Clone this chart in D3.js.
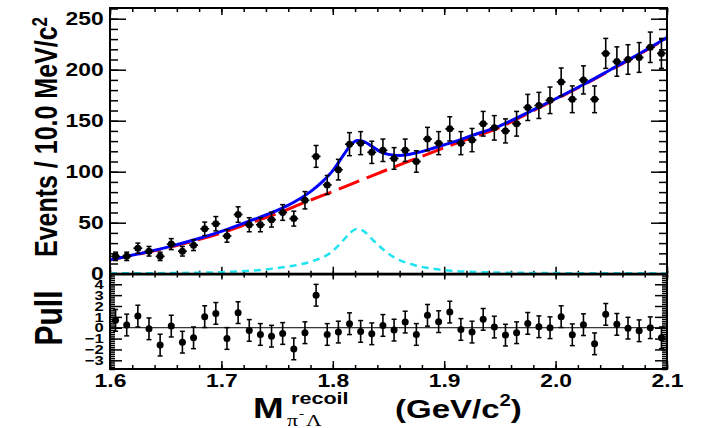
<!DOCTYPE html>
<meta charset="utf-8">
<head>
    <title>Recoil mass fit</title>
    <script src="https://d3js.org/d3.v7.min.js"></script>
    <style>
        body { margin: 0; background: #ffffff; }
        text { font-family: "Liberation Sans", Arial, sans-serif; font-weight: bold; fill: #000; }
    </style>
</head>
<body>
<div id="my_dataviz"></div>
<script>

// bin centres in GeV/c^2 (10 MeV bins)
var binCenters = [1.605,1.615,1.625,1.635,1.645,1.655,1.665,1.675,1.685,1.695,
                  1.705,1.715,1.725,1.735,1.745,1.755,1.765,1.775,1.785,1.795,
                  1.805,1.815,1.825,1.835,1.845,1.855,1.865,1.875,1.885,1.895,
                  1.905,1.915,1.925,1.935,1.945,1.955,1.965,1.975,1.985,1.995,
                  2.005,2.015,2.025,2.035,2.045,2.055,2.065,2.075,2.085,2.095];

// events per bin and their errors
var counts = [17,17,25,22,17,29,22,28,44,49,
              37,58,48,48,53,60,54,72,115,87,
              102,127,128,119,121,113,121,110,132,128,
              142,128,131,147,143,140,147,163,165,170,
              188,171,190,171,216,208,210,212,222,216];
var countErr = [4.1,4.1,5.0,4.7,4.1,5.4,4.7,5.3,6.6,7.0,
                6.1,7.6,6.9,6.9,7.3,7.7,7.3,8.5,10.7,9.3,
                10.1,11.3,11.3,10.9,11.0,10.6,11.0,10.5,11.5,11.3,
                11.9,11.3,11.4,12.1,12.0,11.8,12.1,12.8,12.8,13.0,
                13.7,13.1,13.8,13.1,14.7,14.4,14.5,14.6,14.9,14.7];

// pulls per bin
var pulls = [0.68,0.25,1.07,-0.10,-1.60,0.15,-1.33,-0.93,1.02,1.32,
             -0.99,1.39,-0.25,-0.62,-0.78,-0.53,-1.95,-0.46,2.99,-0.62,
             -0.40,0.37,-0.34,-0.56,0.21,-0.22,0.52,-0.62,1.14,0.56,
             1.44,-0.16,-0.40,0.77,0.06,-0.68,-0.46,0.40,0.09,0.00,
             1.02,-0.65,0.28,-1.48,1.23,0.31,-0.04,-0.28,0.00,-0.93];

// fit curves
var bkgMass  = [1.600,1.625,1.650,1.675,1.700,1.725,1.750,1.775,1.800,1.825,1.850,
                1.875,1.900,1.925,1.950,1.975,2.000,2.025,2.050,2.075,2.100];
var bkgYield = [13.5,19,25,32,40,49.5,59,70,80.5,91.5,102.5,
                113,123.5,133.5,143.5,157,171,185,200,215,231];

var totMass  = [1.600,1.625,1.650,1.675,1.700,1.725,1.750,1.765,1.780,1.790,1.800,1.810,1.816,
                1.822,1.828,1.835,1.842,1.850,1.860,1.875,1.890,1.905,1.925,1.950,1.975,
                2.000,2.025,2.050,2.075,2.100];
var totYield = [13.8,19.3,25.6,33,41.5,51.5,62,70,80.5,89.5,101,117,126,
                130.5,129.5,125,120,117,116,118.5,123,128,135.5,145,158,
                171.5,185.5,200.5,215.5,231.5];

var sigMass  = [1.600,1.650,1.700,1.725,1.750,1.770,1.785,1.798,1.808,1.816,1.822,1.828,
                1.836,1.845,1.855,1.873,1.898,1.930,2.000,2.100];
var sigYield = [0.3,0.6,1.5,2.8,5.5,9,13.5,20.5,31,40.5,44,41.5,
                33,24,16,8.5,3.8,1.6,0.6,0.3];

// ticks
var xMajor = [1.6,1.7,1.8,1.9,2.0,2.1];
var xLabels = ["1.6","1.7","1.8","1.9","2.0","2.1"];
var yMajor = [0,50,100,150,200,250];
var pullMajor = [-3,-2,-1,0,1,2,3,4];

var W = 704, H = 428;
var stretch = 1.27;

var svg = d3.select("#my_dataviz")
    .append("svg")
    .attr("width", W)
    .attr("height", H);

var x = d3.scaleLinear().domain([1.6, 2.1]).range([110, 667]);
var y = d3.scaleLinear().domain([0, 260.5]).range([273.7, 8]);
var yp = d3.scaleLinear().domain([-3.8, 4.9]).range([369, 274.5]);

var xMinor = d3.range(1.6, 2.1001, 0.02);
var yMinor = d3.range(0, 260.1, 10);
var pMinor = d3.range(-3.8, 4.81, 0.2);

// helper: draw an axis, drop the domain line
function addAxis(axis, tx, ty) {
    var g = svg.append("g")
        .attr("transform", "translate(" + tx + "," + ty + ")")
        .call(axis);
    g.select(".domain").remove();
    g.selectAll("line").attr("stroke", "#000").attr("stroke-width", 1.5);
    return g;
}
function labelStyle(g, size) {
    g.attr("font-family", null).attr("font-size", null);
    g.selectAll("text")
        .style("font-size", size + "px")
        .attr("transform", "scale(" + stretch + ",1)");
}

// ---- top panel ----
var gl = addAxis(d3.axisLeft(y).tickValues(yMajor).tickSize(-16).tickPadding(5), 110, 0);
labelStyle(gl, 18);
addAxis(d3.axisLeft(y).tickValues(yMinor).tickSize(-8).tickFormat(""), 110, 0);
addAxis(d3.axisRight(y).tickValues(yMajor).tickSize(-16).tickFormat(""), 667, 0);
addAxis(d3.axisRight(y).tickValues(yMinor).tickSize(-8).tickFormat(""), 667, 0);
addAxis(d3.axisTop(x).tickValues(xMajor).tickSize(-7).tickFormat(""), 0, 8);
addAxis(d3.axisTop(x).tickValues(xMinor).tickSize(-4).tickFormat(""), 0, 8);
addAxis(d3.axisBottom(x).tickValues(xMajor).tickSize(-7).tickFormat(""), 0, 273.7);
addAxis(d3.axisBottom(x).tickValues(xMinor).tickSize(-3).tickFormat(""), 0, 273.7);

// fit curves
var sigLine = d3.line().curve(d3.curveMonotoneX)
    .x(function(d, i) { return x(sigMass[i]); })
    .y(function(d) { return y(d); });
var bkgLine = d3.line().curve(d3.curveMonotoneX)
    .x(function(d, i) { return x(bkgMass[i]); })
    .y(function(d) { return y(d); });
var totLine = d3.line().curve(d3.curveMonotoneX)
    .x(function(d, i) { return x(totMass[i]); })
    .y(function(d) { return y(d); });

svg.append("path").datum(sigYield)
    .attr("fill", "none").attr("stroke", "#22e3f2")
    .attr("stroke-width", 2.5).attr("stroke-dasharray", "7,5")
    .attr("d", sigLine);
svg.append("path").datum(bkgYield)
    .attr("fill", "none").attr("stroke", "#ff0000")
    .attr("stroke-width", 3).attr("stroke-dasharray", "22,8")
    .attr("d", bkgLine);
svg.append("path").datum(totYield)
    .attr("fill", "none").attr("stroke", "#0000ff")
    .attr("stroke-width", 3)
    .attr("d", totLine);

// data points
var pts = svg.append("g").selectAll("g")
    .data(counts)
    .enter().append("g");
pts.append("line")
    .attr("x1", function(d, i) { return x(binCenters[i]); })
    .attr("x2", function(d, i) { return x(binCenters[i]); })
    .attr("y1", function(d, i) { return y(d - countErr[i]); })
    .attr("y2", function(d, i) { return y(d + countErr[i]); })
    .attr("stroke", "#000").attr("stroke-width", 1.6);
pts.append("line")
    .attr("x1", function(d, i) { return x(binCenters[i] - 0.004); })
    .attr("x2", function(d, i) { return x(binCenters[i] + 0.004); })
    .attr("y1", function(d) { return y(d); })
    .attr("y2", function(d) { return y(d); })
    .attr("stroke", "#000").attr("stroke-width", 1.6);
[-1, 1].forEach(function(s) {
    pts.append("line")
        .attr("x1", function(d, i) { return x(binCenters[i]) - 2.5; })
        .attr("x2", function(d, i) { return x(binCenters[i]) + 2.5; })
        .attr("y1", function(d, i) { return y(d + s * countErr[i]); })
        .attr("y2", function(d, i) { return y(d + s * countErr[i]); })
        .attr("stroke", "#000").attr("stroke-width", 1.5);
});
pts.append("circle")
    .attr("cx", function(d, i) { return x(binCenters[i]); })
    .attr("cy", function(d) { return y(d); })
    .attr("r", 3.5)
    .attr("fill", "#000");

// frame
svg.append("rect")
    .attr("x", 110).attr("y", 8)
    .attr("width", 557).attr("height", 265.7)
    .attr("fill", "none").attr("stroke", "#000").attr("stroke-width", 2);

// ---- pull panel ----
var gpl = addAxis(d3.axisLeft(yp).tickValues(pullMajor).tickSize(-12).tickPadding(5), 110, 0);
labelStyle(gpl, 13);
addAxis(d3.axisLeft(yp).tickValues(pMinor).tickSize(-5).tickFormat(""), 110, 0);
addAxis(d3.axisRight(yp).tickValues(pullMajor).tickSize(-12).tickFormat(""), 667, 0);
addAxis(d3.axisRight(yp).tickValues(pMinor).tickSize(-5).tickFormat(""), 667, 0);
var gb = addAxis(d3.axisBottom(x).tickValues(xMajor).tickSize(-8).tickPadding(5)
    .tickFormat(function(d, i) { return xLabels[i]; }), 0, 369);
labelStyle(gb, 18);
addAxis(d3.axisBottom(x).tickValues(xMinor).tickSize(-4).tickFormat(""), 0, 369);
addAxis(d3.axisTop(x).tickValues(xMajor).tickSize(-5).tickFormat(""), 0, 274.5);
addAxis(d3.axisTop(x).tickValues(xMinor).tickSize(-3).tickFormat(""), 0, 274.5);

// zero line
svg.append("line")
    .attr("x1", x(1.6)).attr("x2", x(2.1))
    .attr("y1", yp(0)).attr("y2", yp(0))
    .attr("stroke", "#000").attr("stroke-width", 1);

var pp = svg.append("g").selectAll("g")
    .data(pulls)
    .enter().append("g");
pp.append("line")
    .attr("x1", function(d, i) { return x(binCenters[i]); })
    .attr("x2", function(d, i) { return x(binCenters[i]); })
    .attr("y1", function(d) { return yp(d - 1); })
    .attr("y2", function(d) { return yp(d + 1); })
    .attr("stroke", "#000").attr("stroke-width", 1.6);
[-1, 1].forEach(function(s) {
    pp.append("line")
        .attr("x1", function(d, i) { return x(binCenters[i]) - 2.5; })
        .attr("x2", function(d, i) { return x(binCenters[i]) + 2.5; })
        .attr("y1", function(d) { return yp(d + s); })
        .attr("y2", function(d) { return yp(d + s); })
        .attr("stroke", "#000").attr("stroke-width", 1.5);
});
pp.append("circle")
    .attr("cx", function(d, i) { return x(binCenters[i]); })
    .attr("cy", function(d) { return yp(d); })
    .attr("r", 3.5)
    .attr("fill", "#000");

svg.append("rect")
    .attr("x", 110).attr("y", 274.5)
    .attr("width", 557).attr("height", 94.5)
    .attr("fill", "none").attr("stroke", "#000").attr("stroke-width", 2);

// ---- axis titles ----
var yTitle = svg.append("text")
    .attr("transform", "translate(57,137) scale(" + stretch + ",1) rotate(-90)")
    .attr("text-anchor", "middle")
    .style("font-size", "25px");
yTitle.append("tspan").text("Events / 10.0 MeV/c");
yTitle.append("tspan").attr("dy", "-0.45em").style("font-size", "17px").text("2");

svg.append("text")
    .attr("transform", "translate(62,318) scale(" + stretch + ",1) rotate(-90)")
    .attr("text-anchor", "middle")
    .style("font-size", "30px")
    .text("Pull");

function piece(str, px, py, size, serif) {
    var t = svg.append("text")
        .attr("transform", "translate(" + px + "," + py + ") scale(" + stretch + ",1)")
        .style("font-size", size + "px")
        .text(str);
    if (serif) t.style("font-family", "'Liberation Serif', 'DejaVu Serif', serif").style("font-weight", "normal");
    return t;
}
piece("M", 253, 418, 29);
piece("recoil", 291, 404, 17);
piece("\u03c0", 287, 426, 17, true);
piece("-", 299, 418, 12, true);
piece("\u039b", 306, 426, 17, true);
var unit = piece("(GeV/c", 395, 418, 26);
unit.append("tspan").attr("dy", -12).style("font-size", "16px").text("2");
unit.append("tspan").attr("dy", 12).text(")");

</script>
</body>
</html>
